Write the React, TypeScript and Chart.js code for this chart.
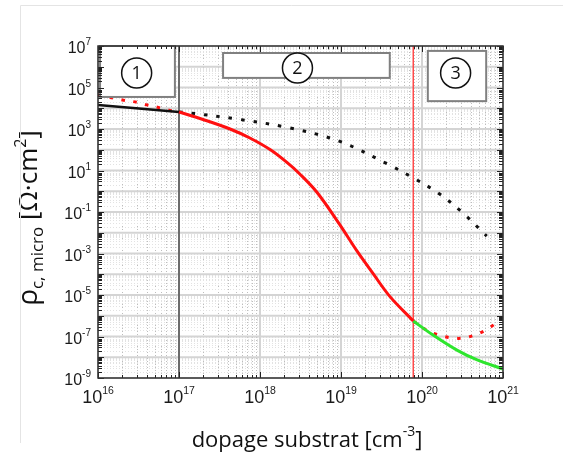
import { useEffect, useRef } from "react";
import { Chart, registerables } from "chart.js";

Chart.register(...registerables);

// ---- axis ranges & tick labels ----
const X_MIN = 1e16;
const X_MAX = 1e21;
const Y_MIN = 1e-9;
const Y_MAX = 1e7;
const X_LABEL_EXPONENTS = [16, 17, 18, 19, 20, 21];
const Y_LABEL_EXPONENTS = [7, 5, 3, 1, -1, -3, -5, -7, -9];
const X_DECADES = [16, 17, 18, 19, 20, 21];
const Y_DECADES = [-9, -8, -7, -6, -5, -4, -3, -2, -1, 0, 1, 2, 3, 4, 5, 6, 7];

// ---- series (doping [cm^-3], rho_c [Ohm.cm^2]) ----
const DOPING_BLACK_SOLID = [1e16, 3.2e16, 1e17];
const RHO_BLACK_SOLID = [1.45e4, 9.8e3, 6.6e3];

const DOPING_RED_DOTTED_LOW = [1e16, 2e16, 3e16, 4e16, 6e16, 8e16, 1e17];
const RHO_RED_DOTTED_LOW = [4.5e4, 2.5e4, 1.95e4, 1.45e4, 1.02e4, 7.6e3, 6.6e3];

const DOPING_RED_SOLID = [1e17, 1.98e17, 4.27e17, 7.5e17, 1.33e18, 2.15e18, 3.1e18, 5.1e18, 9.7e18, 1.58e19, 2.48e19, 4.0e19, 7.8e19];
const RHO_RED_SOLID = [6.6e3, 2.87e3, 1.0e3, 3.68e2, 1.02e2, 24.5, 6.8, 0.85, 2.4e-2, 1.29e-3, 1.1e-4, 8.6e-6, 5.6e-7];

const DOPING_GREEN = [7.8e19, 1.37e20, 2.7e20, 4.8e20, 1e21];
const RHO_GREEN = [5.6e-7, 1.17e-7, 2.2e-8, 7.4e-9, 2.7e-9];

const DOPING_RED_DOTTED_HIGH = [7.8e19, 1.15e20, 1.62e20, 2.34e20, 3.3e20, 4.8e20, 6.8e20, 9.8e20];
const RHO_RED_DOTTED_HIGH = [5.6e-7, 2.0e-7, 1.17e-7, 8.5e-8, 8.5e-8, 1.3e-7, 2.6e-7, 7.8e-7];

const DOPING_BLACK_DOTTED = [1e17, 1.38e17, 5.6e17, 2.35e18, 9.5e18, 3.8e19, 7.8e19, 1.58e20, 3.1e20, 6.3e20];
const RHO_BLACK_DOTTED = [6.6e3, 5.9e3, 2.9e3, 1.12e3, 2.6e2, 20, 4.4, 0.83, 0.1, 6.9e-3];

// vertical region limits
const REGION_LIMITS = [1e17, 7.8e19];

// region boxes: [x0, x1, y0(top), y1(bottom)] in data units, label, circle centre
const BOX_LABELS = ["1", "2", "3"];
const BOX_X0 = [1.06e16, 3.5e17, 1.18e20];
const BOX_X1 = [8.9e16, 4.0e19, 6.2e20];
const BOX_Y_TOP = [1e7, 4.6e6, 5.8e6];
const BOX_Y_BOTTOM = [3.5e4, 2.9e5, 2.2e4];
const CIRCLE_X = [3.0e16, 2.9e18, 2.6e20];
const CIRCLE_Y = [5.0e5, 8.7e5, 5.0e5];

const pts = (xs: number[], ys: number[]) => xs.map((x, i) => ({ x, y: ys[i] }));

const TICK_FONT = "'Liberation Sans', Arial, sans-serif";
const TITLE_FONT = "'Open Sans', 'Noto Sans', sans-serif";

function drawPower(
  ctx: CanvasRenderingContext2D,
  base: string,
  exp: string,
  x: number,
  y: number,
  baseSize: number,
  expSize: number,
  rise: number,
  align: "center" | "right"
) {
  ctx.font = `${baseSize}px ${TICK_FONT}`;
  const wb = ctx.measureText(base).width;
  ctx.font = `${expSize}px ${TICK_FONT}`;
  const we = ctx.measureText(exp).width;
  const total = wb + we;
  const x0 = align === "center" ? x - total / 2 : x - total;
  ctx.textAlign = "left";
  ctx.textBaseline = "alphabetic";
  ctx.font = `${baseSize}px ${TICK_FONT}`;
  ctx.fillText(base, x0, y);
  ctx.font = `${expSize}px ${TICK_FONT}`;
  ctx.fillText(exp, x0 + wb, y - rise);
}

type Seg = { t: string; size: number; dy: number };
function drawSegments(ctx: CanvasRenderingContext2D, segs: Seg[], cx: number, y: number) {
  let total = 0;
  const widths = segs.map((s) => {
    ctx.font = `${s.size}px ${TITLE_FONT}`;
    const w = ctx.measureText(s.t).width;
    total += w;
    return w;
  });
  let x = cx - total / 2;
  ctx.textAlign = "left";
  ctx.textBaseline = "alphabetic";
  segs.forEach((s, i) => {
    ctx.font = `${s.size}px ${TITLE_FONT}`;
    ctx.fillText(s.t, x, y + s.dy);
    x += widths[i];
  });
}

const framePlugin = {
  id: "framePlugin",
  beforeDatasetsDraw(chart: any) {
    const { ctx, chartArea: a, scales } = chart;
    const xs = scales.x;
    const ys = scales.y;
    ctx.save();
    // minor grid (dotted)
    ctx.lineWidth = 1;
    ctx.setLineDash([1, 2]);
    ctx.strokeStyle = "#bdbdbd";
    for (const d of X_DECADES.slice(0, -1)) {
      for (let k = 2; k <= 9; k++) {
        const x = Math.round(xs.getPixelForValue(k * Math.pow(10, d))) + 0.5;
        ctx.beginPath();
        ctx.moveTo(x, a.top);
        ctx.lineTo(x, a.bottom);
        ctx.stroke();
      }
    }
    ctx.strokeStyle = "#e2e2e2";
    for (const d of Y_DECADES.slice(0, -1)) {
      for (let k = 2; k <= 9; k += 1) {
        const y = Math.round(ys.getPixelForValue(k * Math.pow(10, d))) + 0.5;
        ctx.beginPath();
        ctx.moveTo(a.left, y);
        ctx.lineTo(a.right, y);
        ctx.stroke();
      }
    }
    ctx.setLineDash([]);
    // major grid
    ctx.strokeStyle = "#d4d4d4";
    ctx.lineWidth = 2;
    for (const d of X_DECADES) {
      const x = xs.getPixelForValue(Math.pow(10, d));
      ctx.beginPath();
      ctx.moveTo(x, a.top);
      ctx.lineTo(x, a.bottom);
      ctx.stroke();
    }
    for (const d of Y_DECADES) {
      const y = ys.getPixelForValue(Math.pow(10, d));
      ctx.beginPath();
      ctx.moveTo(a.left, y);
      ctx.lineTo(a.right, y);
      ctx.stroke();
    }
    ctx.restore();
  },
  afterDatasetsDraw(chart: any) {
    const { ctx, chartArea: a, scales } = chart;
    const xs = scales.x;
    const ys = scales.y;
    ctx.save();

    // region boxes
    for (let i = 0; i < BOX_LABELS.length; i++) {
      const x0 = xs.getPixelForValue(BOX_X0[i]);
      const x1 = xs.getPixelForValue(BOX_X1[i]);
      const y0 = ys.getPixelForValue(BOX_Y_TOP[i]);
      const y1 = ys.getPixelForValue(BOX_Y_BOTTOM[i]);
      ctx.fillStyle = "#ffffff";
      ctx.fillRect(x0, y0, x1 - x0, y1 - y0);
      ctx.strokeStyle = "#808080";
      ctx.lineWidth = 2;
      ctx.strokeRect(x0, y0, x1 - x0, y1 - y0);
      const cx = xs.getPixelForValue(CIRCLE_X[i]);
      const cy = ys.getPixelForValue(CIRCLE_Y[i]);
      ctx.beginPath();
      ctx.arc(cx, cy, 15, 0, Math.PI * 2);
      ctx.fillStyle = "#ffffff";
      ctx.fill();
      ctx.strokeStyle = "#111";
      ctx.lineWidth = 1.5;
      ctx.stroke();
      ctx.fillStyle = "#111";
      ctx.font = `18px ${TITLE_FONT}`;
      ctx.textAlign = "center";
      ctx.textBaseline = "middle";
      ctx.fillText(BOX_LABELS[i], cx, cy + 1);
    }

    // ticks
    ctx.strokeStyle = "#222";
    ctx.lineWidth = 1;
    for (const d of X_DECADES) {
      for (let k = 1; k <= 9; k++) {
        if (d === X_DECADES[X_DECADES.length - 1] && k > 1) break;
        const x = Math.round(xs.getPixelForValue(k * Math.pow(10, d))) + 0.5;
        const len = k === 1 ? 6 : 3;
        ctx.beginPath();
        ctx.moveTo(x, a.bottom);
        ctx.lineTo(x, a.bottom - len);
        ctx.moveTo(x, a.top);
        ctx.lineTo(x, a.top + len);
        ctx.stroke();
      }
    }
    for (const d of Y_DECADES) {
      for (let k = 1; k <= 9; k++) {
        if (d === Y_DECADES[Y_DECADES.length - 1] && k > 1) break;
        const y = Math.round(ys.getPixelForValue(k * Math.pow(10, d))) + 0.5;
        const len = k === 1 ? 6 : 4;
        ctx.beginPath();
        ctx.moveTo(a.left, y);
        ctx.lineTo(a.left + len, y);
        ctx.moveTo(a.right, y);
        ctx.lineTo(a.right - len, y);
        ctx.stroke();
      }
    }

    // frame
    ctx.strokeStyle = "#333";
    ctx.lineWidth = 1.5;
    ctx.strokeRect(a.left, a.top, a.right - a.left, a.bottom - a.top);

    // tick labels
    ctx.fillStyle = "#1a1a1a";
    for (const e of X_LABEL_EXPONENTS) {
      const x = xs.getPixelForValue(Math.pow(10, e));
      drawPower(ctx, "10", String(e), x, a.bottom + 25, 18, 10.5, 9.5, "center");
    }
    for (const e of Y_LABEL_EXPONENTS) {
      const y = ys.getPixelForValue(Math.pow(10, e));
      drawPower(ctx, "10", String(e), a.left - 7, y + 7, 16, 10, 8, "right");
    }

    // axis titles
    ctx.fillStyle = "#111";
    drawSegments(
      ctx,
      [
        { t: "dopage substrat [cm", size: 22, dy: 0 },
        { t: "-3", size: 14, dy: -11 },
        { t: "]", size: 22, dy: 0 },
      ],
      307,
      447
    );
    ctx.save();
    ctx.translate(37, 218);
    ctx.rotate(-Math.PI / 2);
    drawSegments(
      ctx,
      [
        { t: "ρ", size: 28, dy: 0 },
        { t: "c, micro", size: 17, dy: 6 },
        { t: " [Ω·cm", size: 26, dy: 0 },
        { t: "2", size: 16, dy: -11 },
        { t: "]", size: 26, dy: 0 },
      ],
      0,
      0
    );
    ctx.restore();

    // faint outer frame of the figure
    ctx.strokeStyle = "#e4e4e4";
    ctx.lineWidth = 1;
    ctx.beginPath();
    ctx.moveTo(20.5, 443);
    ctx.lineTo(20.5, 5.5);
    ctx.lineTo(563, 5.5);
    ctx.stroke();

    ctx.restore();
  },
};

export default function App() {
  const ref = useRef<HTMLCanvasElement | null>(null);
  useEffect(() => {
    if (!ref.current) return;
    const lineDs = (label: string, data: any[], color: string, width: number, dash: number[] = [], tension = 0.35) => ({
      label,
      data,
      borderColor: color,
      backgroundColor: color,
      borderWidth: width,
      borderDash: dash,
      pointRadius: 0,
      fill: false,
      tension,
      borderCapStyle: "butt" as const,
    });
    const chart = new Chart(ref.current, {
      type: "line",
      data: {
        datasets: [
          lineDs("red solid", pts(DOPING_RED_SOLID, RHO_RED_SOLID), "#ff1010", 3),
          lineDs("green", pts(DOPING_GREEN, RHO_GREEN), "#2ee62e", 3),
          lineDs("black solid", pts(DOPING_BLACK_SOLID, RHO_BLACK_SOLID), "#111111", 2.5),
          lineDs("red dotted low", pts(DOPING_RED_DOTTED_LOW, RHO_RED_DOTTED_LOW), "#ff1010", 3, [3.5, 8.5]),
          lineDs("red dotted high", pts(DOPING_RED_DOTTED_HIGH, RHO_RED_DOTTED_HIGH), "#ff1010", 3, [3.5, 8.5]),
          lineDs("black dotted", pts(DOPING_BLACK_DOTTED, RHO_BLACK_DOTTED), "#111111", 3, [3.5, 9]),
          lineDs("limit 1", pts([REGION_LIMITS[0], REGION_LIMITS[0]], [Y_MIN, Y_MAX]), "#4a4a4a", 1.5, [], 0),
          lineDs("limit 2", pts([REGION_LIMITS[1], REGION_LIMITS[1]], [Y_MIN, Y_MAX]), "#ff4a4a", 1.5, [], 0),
        ],
      },
      options: {
        responsive: false,
        animation: false,
        devicePixelRatio: 1,
        layout: { padding: { left: 98, top: 46, right: 60, bottom: 76 } },
        plugins: { legend: { display: false }, tooltip: { enabled: false }, title: { display: false } },
        scales: {
          x: { type: "logarithmic", min: X_MIN, max: X_MAX, display: false },
          y: { type: "logarithmic", min: Y_MIN, max: Y_MAX, display: false },
        },
      },
      plugins: [framePlugin],
    });
    return () => chart.destroy();
  }, []);
  return (
    <div style={{ position: "fixed", left: 0, top: 0, width: 563, height: 454, background: "#fff" }}>
      <canvas ref={ref} width={563} height={454} style={{ width: 563, height: 454, display: "block" }} />
    </div>
  );
}
